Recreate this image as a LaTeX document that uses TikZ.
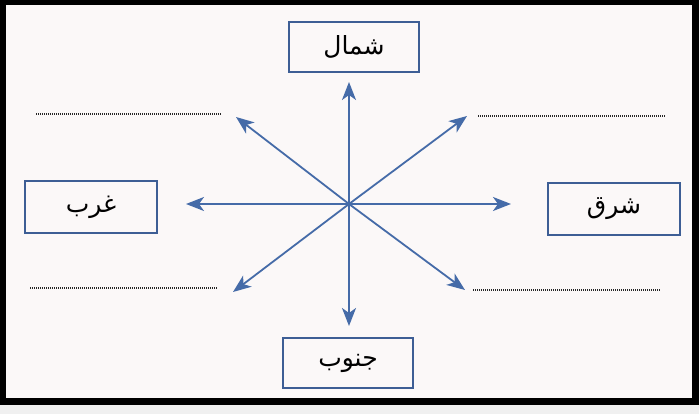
\documentclass[tikz,border=0pt]{standalone}
\usepackage{fontspec}
\newfontfamily\arabicfont[Script=Arabic]{DejaVu Sans}
\TeXXeTstate=1
\usetikzlibrary{arrows.meta}
\definecolor{boxblue}{HTML}{3D5E95}
\definecolor{arrblue}{HTML}{456BA8}
\definecolor{paper}{HTML}{FBF8F8}
\begin{document}
\begin{tikzpicture}[x=1pt,y=-1pt,
  box/.style={draw=boxblue,line width=2.2pt,fill=paper,minimum width=130pt,minimum height=50pt,inner sep=0pt,font=\arabicfont\fontsize{25}{30}\selectfont},
  arr/.style={draw=arrblue,line width=1.8pt,-{Stealth[length=18pt,width=14pt,inset=5pt]}},
  dots/.style={draw=black!85,line width=1.1pt,dash pattern=on 1pt off 1pt}]
\useasboundingbox (0,0) rectangle (699,414);
\fill[paper] (0,0) rectangle (699,414);
% frame
\fill[black] (0,0) rectangle (699,5);
\fill[black] (0,0) rectangle (6,405);
\fill[black] (692,0) rectangle (699,405);
\fill[black] (0,398) rectangle (699,405);
\fill[gray!12] (0,405) rectangle (699,414);
% boxes
\node[box] (north) at (354,47) {\beginR شمال\endR};
\node[box,minimum width=132pt,minimum height=52pt] (west) at (91,207) {\beginR غرب\endR};
\node[box,minimum width=132pt,minimum height=52pt] (east) at (614,209) {\beginR شرق\endR};
\node[box] (south) at (348,363) {\beginR جنوب\endR};
% arrows
\coordinate (c) at (349,204);
\coordinate (tn) at (349,82);
\coordinate (ts) at (349,326);
\coordinate (tw) at (186,204);
\coordinate (te) at (511,204);
\coordinate (tnw) at (236,117);
\coordinate (tne) at (467,116);
\coordinate (tsw) at (233,292);
\coordinate (tse) at (465,290);
\foreach \t in {tn,ts,tw,te,tnw,tne,tsw,tse} \draw[arr] (c) -- (\t);
% dotted lines
\draw[dots] (36,114) -- (222,114);
\draw[dots] (478,116) -- (665,116);
\draw[dots] (30,288) -- (218,288);
\draw[dots] (473,290) -- (660,290);
\end{tikzpicture}
\end{document}
